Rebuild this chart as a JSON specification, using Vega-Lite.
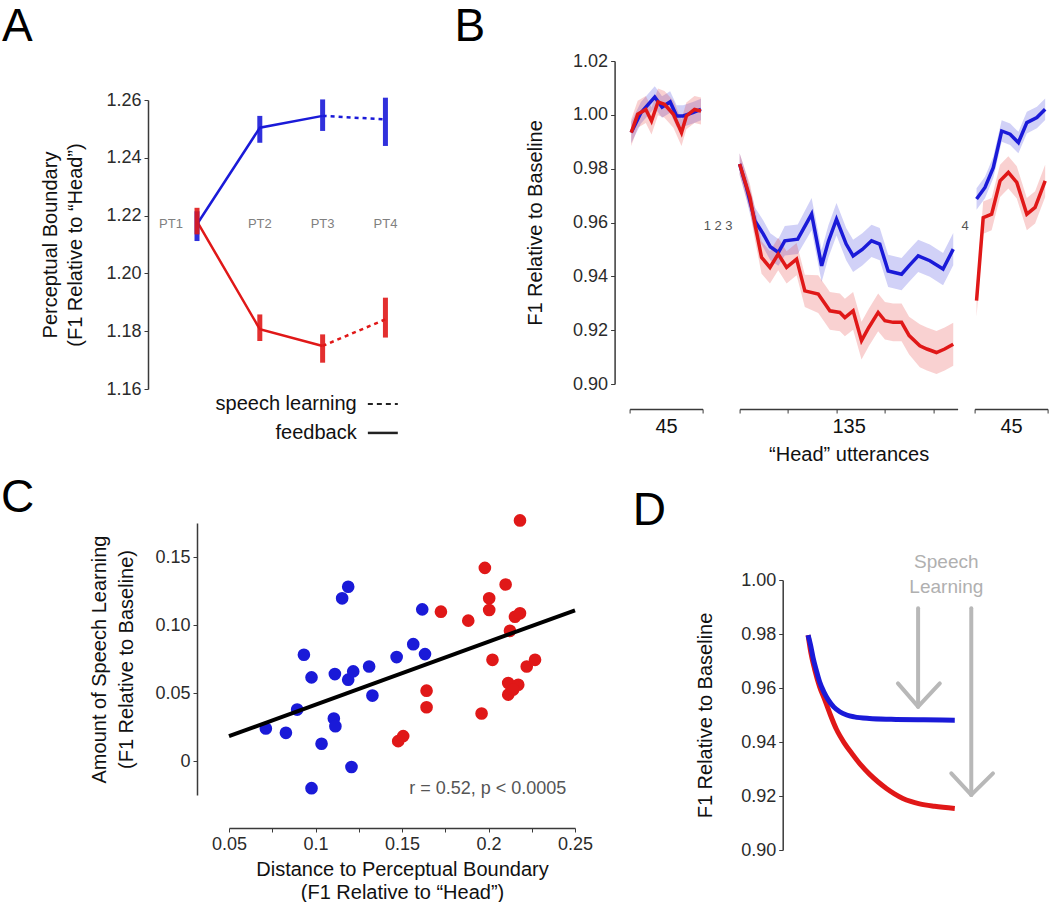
{
 "$schema": "https://vega.github.io/schema/vega-lite/v6.json",
 "background": "white",
 "padding": {"left": 1, "top": 4, "right": 0, "bottom": 0},
 "config": {
  "font": "Liberation Sans",
  "view": {"stroke": null},
  "axis": {"grid": false, "labelFontSize": 18, "titleFontSize": 20, "titleFontWeight": "normal", "labelColor": "#2b2b2b", "titleColor": "#111111", "domainColor": "#3a3a3a", "tickColor": "#3a3a3a", "tickSize": 4, "labelPadding": 3, "domainWidth": 1.5, "labelOverlap": false},
  "title": {"fontSize": 46, "fontWeight": "normal", "anchor": "start", "frame": "group", "baseline": "alphabetic", "color": "#000000"}
 },
 "datasets": {
  "A": [
   {"pt":1,"g":"blue","m":1.2170,"lo":1.2112,"hi":1.2215},
   {"pt":2,"g":"blue","m":1.2504,"lo":1.2452,"hi":1.2545},
   {"pt":3,"g":"blue","m":1.2545,"lo":1.2493,"hi":1.2602},
   {"pt":4,"g":"blue","m":1.2533,"lo":1.2441,"hi":1.2608},
   {"pt":1,"g":"red","m":1.2180,"lo":1.2135,"hi":1.2227},
   {"pt":2,"g":"red","m":1.1807,"lo":1.1766,"hi":1.1858},
   {"pt":3,"g":"red","m":1.1749,"lo":1.1691,"hi":1.1789},
   {"pt":4,"g":"red","m":1.1841,"lo":1.1778,"hi":1.1916}
  ],
  "B": [
   {"s":1,"g":"blue","t":1,"y":0.9934,"lo":0.9894,"hi":0.9974},
   {"s":1,"g":"blue","t":7,"y":1.0008,"lo":0.9968,"hi":1.0048},
   {"s":1,"g":"blue","t":15.5,"y":1.0066,"lo":1.0026,"hi":1.0106},
   {"s":1,"g":"blue","t":20,"y":1.0029,"lo":0.9989,"hi":1.0069},
   {"s":1,"g":"blue","t":25,"y":1.0048,"lo":1.0008,"hi":1.0088},
   {"s":1,"g":"blue","t":29,"y":0.9996,"lo":0.9956,"hi":1.0036},
   {"s":1,"g":"blue","t":33,"y":0.9996,"lo":0.9956,"hi":1.0036},
   {"s":1,"g":"blue","t":39,"y":1.0008,"lo":0.9968,"hi":1.0048},
   {"s":1,"g":"blue","t":44,"y":1.0020,"lo":0.9980,"hi":1.0060},
   {"s":1,"g":"red","t":1,"y":0.9934,"lo":0.9884,"hi":0.9984},
   {"s":1,"g":"red","t":5,"y":1.0002,"lo":0.9952,"hi":1.0052},
   {"s":1,"g":"red","t":10,"y":1.0020,"lo":0.9970,"hi":1.0070},
   {"s":1,"g":"red","t":13.5,"y":0.9977,"lo":0.9927,"hi":1.0027},
   {"s":1,"g":"red","t":17.5,"y":1.0048,"lo":0.9998,"hi":1.0098},
   {"s":1,"g":"red","t":21.5,"y":1.0039,"lo":0.9989,"hi":1.0089},
   {"s":1,"g":"red","t":27,"y":1.0002,"lo":0.9952,"hi":1.0052},
   {"s":1,"g":"red","t":32,"y":0.9934,"lo":0.9884,"hi":0.9984},
   {"s":1,"g":"red","t":35,"y":0.9996,"lo":0.9946,"hi":1.0046},
   {"s":1,"g":"red","t":40,"y":1.0020,"lo":0.9970,"hi":1.0070},
   {"s":1,"g":"red","t":44,"y":1.0014,"lo":0.9964,"hi":1.0064},
   {"s":2,"g":"blue","t":45,"y":0.9817,"lo":0.9777,"hi":0.9857},
   {"s":2,"g":"blue","t":49,"y":0.9736,"lo":0.9691,"hi":0.9781},
   {"s":2,"g":"blue","t":54.5,"y":0.9606,"lo":0.9556,"hi":0.9656},
   {"s":2,"g":"blue","t":59.7,"y":0.9557,"lo":0.9507,"hi":0.9607},
   {"s":2,"g":"blue","t":64,"y":0.9510,"lo":0.9460,"hi":0.9560},
   {"s":2,"g":"blue","t":69,"y":0.9489,"lo":0.9439,"hi":0.9539},
   {"s":2,"g":"blue","t":73,"y":0.9532,"lo":0.9477,"hi":0.9587},
   {"s":2,"g":"blue","t":81,"y":0.9538,"lo":0.9483,"hi":0.9593},
   {"s":2,"g":"blue","t":89.6,"y":0.9631,"lo":0.9571,"hi":0.9691},
   {"s":2,"g":"blue","t":95.8,"y":0.9439,"lo":0.9379,"hi":0.9499},
   {"s":2,"g":"blue","t":100,"y":0.9530,"lo":0.9470,"hi":0.9590},
   {"s":2,"g":"blue","t":105,"y":0.9612,"lo":0.9552,"hi":0.9672},
   {"s":2,"g":"blue","t":111,"y":0.9520,"lo":0.9460,"hi":0.9580},
   {"s":2,"g":"blue","t":115.3,"y":0.9476,"lo":0.9416,"hi":0.9536},
   {"s":2,"g":"blue","t":121,"y":0.9500,"lo":0.9440,"hi":0.9560},
   {"s":2,"g":"blue","t":126.7,"y":0.9532,"lo":0.9472,"hi":0.9592},
   {"s":2,"g":"blue","t":131.8,"y":0.9520,"lo":0.9460,"hi":0.9580},
   {"s":2,"g":"blue","t":137,"y":0.9420,"lo":0.9360,"hi":0.9480},
   {"s":2,"g":"blue","t":145.3,"y":0.9408,"lo":0.9348,"hi":0.9468},
   {"s":2,"g":"blue","t":150,"y":0.9440,"lo":0.9380,"hi":0.9500},
   {"s":2,"g":"blue","t":155.6,"y":0.9476,"lo":0.9416,"hi":0.9536},
   {"s":2,"g":"blue","t":162.8,"y":0.9458,"lo":0.9398,"hi":0.9518},
   {"s":2,"g":"blue","t":171,"y":0.9427,"lo":0.9367,"hi":0.9487},
   {"s":2,"g":"blue","t":177.3,"y":0.9501,"lo":0.9441,"hi":0.9561},
   {"s":2,"g":"red","t":45,"y":0.9817,"lo":0.9777,"hi":0.9857},
   {"s":2,"g":"red","t":51.4,"y":0.9693,"lo":0.9643,"hi":0.9743},
   {"s":2,"g":"red","t":54.5,"y":0.9594,"lo":0.9534,"hi":0.9654},
   {"s":2,"g":"red","t":58.6,"y":0.9470,"lo":0.9410,"hi":0.9530},
   {"s":2,"g":"red","t":63.8,"y":0.9433,"lo":0.9373,"hi":0.9493},
   {"s":2,"g":"red","t":68.9,"y":0.9483,"lo":0.9423,"hi":0.9543},
   {"s":2,"g":"red","t":74.1,"y":0.9433,"lo":0.9373,"hi":0.9493},
   {"s":2,"g":"red","t":80.3,"y":0.9464,"lo":0.9404,"hi":0.9524},
   {"s":2,"g":"red","t":85.4,"y":0.9346,"lo":0.9286,"hi":0.9406},
   {"s":2,"g":"red","t":93.7,"y":0.9334,"lo":0.9264,"hi":0.9404},
   {"s":2,"g":"red","t":100.9,"y":0.9272,"lo":0.9202,"hi":0.9342},
   {"s":2,"g":"red","t":107.1,"y":0.9266,"lo":0.9196,"hi":0.9336},
   {"s":2,"g":"red","t":110.2,"y":0.9247,"lo":0.9177,"hi":0.9317},
   {"s":2,"g":"red","t":115.3,"y":0.9272,"lo":0.9202,"hi":0.9342},
   {"s":2,"g":"red","t":120.5,"y":0.9161,"lo":0.9091,"hi":0.9231},
   {"s":2,"g":"red","t":125,"y":0.9210,"lo":0.9140,"hi":0.9280},
   {"s":2,"g":"red","t":130.8,"y":0.9266,"lo":0.9196,"hi":0.9336},
   {"s":2,"g":"red","t":135,"y":0.9235,"lo":0.9165,"hi":0.9305},
   {"s":2,"g":"red","t":140.1,"y":0.9229,"lo":0.9159,"hi":0.9299},
   {"s":2,"g":"red","t":145.3,"y":0.9229,"lo":0.9159,"hi":0.9299},
   {"s":2,"g":"red","t":150,"y":0.9180,"lo":0.9110,"hi":0.9250},
   {"s":2,"g":"red","t":156.6,"y":0.9142,"lo":0.9062,"hi":0.9222},
   {"s":2,"g":"red","t":161,"y":0.9130,"lo":0.9050,"hi":0.9210},
   {"s":2,"g":"red","t":166.9,"y":0.9117,"lo":0.9037,"hi":0.9197},
   {"s":2,"g":"red","t":172,"y":0.9130,"lo":0.9050,"hi":0.9210},
   {"s":2,"g":"red","t":177.3,"y":0.9148,"lo":0.9068,"hi":0.9228},
   {"s":3,"g":"blue","t":181.2,"y":0.9687,"lo":0.9647,"hi":0.9727},
   {"s":3,"g":"blue","t":186.4,"y":0.9730,"lo":0.9690,"hi":0.9770},
   {"s":3,"g":"blue","t":191.5,"y":0.9804,"lo":0.9764,"hi":0.9844},
   {"s":3,"g":"blue","t":196.7,"y":0.9940,"lo":0.9900,"hi":0.9980},
   {"s":3,"g":"blue","t":201.9,"y":0.9928,"lo":0.9888,"hi":0.9968},
   {"s":3,"g":"blue","t":207,"y":0.9897,"lo":0.9857,"hi":0.9937},
   {"s":3,"g":"blue","t":212.2,"y":0.9971,"lo":0.9931,"hi":1.0011},
   {"s":3,"g":"blue","t":218.4,"y":0.9990,"lo":0.9950,"hi":1.0030},
   {"s":3,"g":"blue","t":223.5,"y":1.0021,"lo":0.9981,"hi":1.0061},
   {"s":3,"g":"red","t":181.2,"y":0.9310,"lo":0.9250,"hi":0.9370},
   {"s":3,"g":"red","t":185.3,"y":0.9618,"lo":0.9558,"hi":0.9678},
   {"s":3,"g":"red","t":190.5,"y":0.9631,"lo":0.9571,"hi":0.9691},
   {"s":3,"g":"red","t":195.7,"y":0.9755,"lo":0.9695,"hi":0.9815},
   {"s":3,"g":"red","t":200.8,"y":0.9786,"lo":0.9726,"hi":0.9846},
   {"s":3,"g":"red","t":206,"y":0.9749,"lo":0.9689,"hi":0.9809},
   {"s":3,"g":"red","t":212.2,"y":0.9631,"lo":0.9571,"hi":0.9691},
   {"s":3,"g":"red","t":217.3,"y":0.9656,"lo":0.9596,"hi":0.9716},
   {"s":3,"g":"red","t":223.5,"y":0.9755,"lo":0.9695,"hi":0.9815}
  ],
  "C": [
   {"g":"blue","x":0.0713,"y":0.0239},{"g":"blue","x":0.0829,"y":0.0207},{"g":"blue","x":0.0894,"y":0.0378},
   {"g":"blue","x":0.0933,"y":0.0781},{"g":"blue","x":0.0977,"y":0.0615},{"g":"blue","x":0.0977,"y":-0.0200},
   {"g":"blue","x":0.1035,"y":0.0127},{"g":"blue","x":0.1112,"y":0.0639},{"g":"blue","x":0.1106,"y":0.0312},
   {"g":"blue","x":0.1115,"y":0.0256},{"g":"blue","x":0.1154,"y":0.1196},{"g":"blue","x":0.1189,"y":0.1281},
   {"g":"blue","x":0.1189,"y":0.0598},{"g":"blue","x":0.1218,"y":0.0659},{"g":"blue","x":0.1208,"y":-0.0044},
   {"g":"blue","x":0.1310,"y":0.0695},{"g":"blue","x":0.1329,"y":0.0481},{"g":"blue","x":0.1469,"y":0.0764},
   {"g":"blue","x":0.1565,"y":0.0859},{"g":"blue","x":0.1617,"y":0.1115},{"g":"blue","x":0.1633,"y":0.0786},
   {"g":"red","x":0.1478,"y":0.0146},{"g":"red","x":0.1507,"y":0.0183},{"g":"red","x":0.1642,"y":0.0517},
   {"g":"red","x":0.1642,"y":0.0395},{"g":"red","x":0.1725,"y":0.1098},{"g":"red","x":0.1883,"y":0.1032},
   {"g":"red","x":0.1960,"y":0.0349},{"g":"red","x":0.1979,"y":0.1420},{"g":"red","x":0.2004,"y":0.1196},
   {"g":"red","x":0.2004,"y":0.1110},{"g":"red","x":0.2023,"y":0.0744},{"g":"red","x":0.2099,"y":0.1298},
   {"g":"red","x":0.2114,"y":0.0488},{"g":"red","x":0.2114,"y":0.0573},{"g":"red","x":0.2124,"y":0.0957},
   {"g":"red","x":0.2153,"y":0.1061},{"g":"red","x":0.2182,"y":0.1086},{"g":"red","x":0.2172,"y":0.0561},
   {"g":"red","x":0.2182,"y":0.1769},{"g":"red","x":0.2221,"y":0.0695},{"g":"red","x":0.2269,"y":0.0744},
   {"g":"red","x":0.2143,"y":0.0525}
  ],
  "Cfit": [{"x":0.05,"y":0.0183},{"x":0.25,"y":0.1108}],
  "D": [
   {"g":"blue","x":11.7,"y":0.9796},{"g":"blue","x":12.8,"y":0.9760},{"g":"blue","x":14,"y":0.9712},
   {"g":"blue","x":15.5,"y":0.9665},{"g":"blue","x":17,"y":0.9623},{"g":"blue","x":19,"y":0.9585},
   {"g":"blue","x":21,"y":0.9556},{"g":"blue","x":23.5,"y":0.9530},{"g":"blue","x":26.3,"y":0.9512},
   {"g":"blue","x":29.5,"y":0.9500},{"g":"blue","x":33,"y":0.9493},{"g":"blue","x":40,"y":0.9487},
   {"g":"blue","x":50,"y":0.9484},{"g":"blue","x":65,"y":0.9482},{"g":"blue","x":79.3,"y":0.9481},
   {"g":"red","x":11.7,"y":0.9796},{"g":"red","x":13,"y":0.9730},{"g":"red","x":14.7,"y":0.9670},
   {"g":"red","x":17,"y":0.9605},{"g":"red","x":19.4,"y":0.9556},{"g":"red","x":22,"y":0.9500},
   {"g":"red","x":24.7,"y":0.9448},{"g":"red","x":28.5,"y":0.9395},{"g":"red","x":32.4,"y":0.9352},
   {"g":"red","x":36,"y":0.9315},{"g":"red","x":40.1,"y":0.9280},{"g":"red","x":44,"y":0.9252},
   {"g":"red","x":47.8,"y":0.9228},{"g":"red","x":51.5,"y":0.9208},{"g":"red","x":55.4,"y":0.9191},
   {"g":"red","x":59,"y":0.9180},{"g":"red","x":63.1,"y":0.9171},{"g":"red","x":70,"y":0.9162},
   {"g":"red","x":79.3,"y":0.9154}
  ],
  "Darrows": [
   {"x":62.4,"y":0.9895,"x2":62.4,"y2":0.9531},
   {"x":53.1,"y":0.9617,"x2":62.4,"y2":0.9531},
   {"x":72.4,"y":0.9617,"x2":62.4,"y2":0.9531},
   {"x":86.9,"y":0.9895,"x2":86.9,"y2":0.9204},
   {"x":77.7,"y":0.9284,"x2":86.9,"y2":0.9204},
   {"x":96.9,"y":0.9284,"x2":86.9,"y2":0.9204}
  ]
 },
 "spacing": 462,
 "bounds": "flush",
 "vconcat": [
  {
   "spacing": 481.6,
   "bounds": "flush",
   "hconcat": [
    {
     "spacing": 0,
     "bounds": "flush",
     "vconcat": [
      {"width": 250, "height": 39, "data": {"values": []}, "mark": "point"},
      {
       "width": 250, "height": 289,
       "title": {"text": "A", "dx": -146, "offset": 40},
       "data": {"name": "A"},
       "layer": [
        {
         "transform": [{"filter": "datum.pt <= 3"}],
         "mark": {"type": "line", "strokeWidth": 2.5},
         "encoding": {
          "x": {"field": "pt", "type": "quantitative", "scale": {"domain": [0.22, 4.2], "nice": false, "zero": false}, "axis": null},
          "y": {"field": "m", "type": "quantitative", "scale": {"domain": [1.16, 1.26], "nice": false, "zero": false},
                "axis": {"values": [1.16, 1.18, 1.2, 1.22, 1.24, 1.26], "format": ".2f", "labelOverlap": false, "title": ["Perceptual Boundary", "(F1 Relative to “Head”)"], "titleLineHeight": 25, "titlePadding": 20}},
          "color": {"field": "g", "type": "nominal", "scale": {"domain": ["blue", "red"], "range": ["#1a1ad8", "#e01818"]}, "legend": null}
         }
        },
        {
         "transform": [{"filter": "datum.pt >= 3"}],
         "mark": {"type": "line", "strokeWidth": 2.5, "strokeDash": [4, 4]},
         "encoding": {
          "x": {"field": "pt", "type": "quantitative", "axis": null},
          "y": {"field": "m", "type": "quantitative"},
          "color": {"field": "g", "type": "nominal", "scale": {"domain": ["blue", "red"], "range": ["#1a1ad8", "#e01818"]}, "legend": null}
         }
        },
        {
         "mark": {"type": "rule", "strokeWidth": 5, "opacity": 0.9},
         "encoding": {
          "x": {"field": "pt", "type": "quantitative", "axis": null},
          "y": {"field": "lo", "type": "quantitative"},
          "y2": {"field": "hi"},
          "color": {"field": "g", "type": "nominal", "scale": {"domain": ["blue", "red"], "range": ["#1a1ad8", "#e01818"]}, "legend": null}
         }
        },
        {
         "data": {"values": [{"lab": "PT2", "pt": 2}, {"lab": "PT3", "pt": 3}, {"lab": "PT4", "pt": 4}]},
         "mark": {"type": "text", "fontSize": 13, "color": "#808080"},
         "encoding": {
          "x": {"field": "pt", "type": "quantitative", "axis": null},
          "y": {"datum": 1.2172},
          "text": {"field": "lab"}
         }
        },
        {
         "data": {"values": [{"lab": "PT1"}]},
         "mark": {"type": "text", "fontSize": 13, "color": "#808080", "dx": -26},
         "encoding": {"x": {"datum": 1}, "y": {"datum": 1.2172}, "text": {"field": "lab"}}
        },
        {
         "data": {"values": [{"lab": "speech learning"}]},
         "mark": {"type": "text", "fontSize": 20, "align": "right", "baseline": "middle", "color": "#111111"},
         "encoding": {"x": {"datum": 3.543}, "y": {"datum": 1.1548}, "text": {"field": "lab"}}
        },
        {
         "data": {"values": [{"lab": "feedback"}]},
         "mark": {"type": "text", "fontSize": 20, "align": "right", "baseline": "middle", "color": "#111111"},
         "encoding": {"x": {"datum": 3.543}, "y": {"datum": 1.1448}, "text": {"field": "lab"}}
        },
        {
         "data": {"values": [{"k": "dash"}]},
         "mark": {"type": "rule", "strokeWidth": 2, "strokeDash": [5, 4], "color": "#222222"},
         "encoding": {"x": {"datum": 3.72}, "x2": {"datum": 4.197}, "y": {"datum": 1.1548}}
        },
        {
         "data": {"values": [{"k": "solid"}]},
         "mark": {"type": "rule", "strokeWidth": 2.5, "color": "#222222"},
         "encoding": {"x": {"datum": 3.72}, "x2": {"datum": 4.197}, "y": {"datum": 1.1448}}
        }
       ]
      }
     ]
    },
    {
     "spacing": 37,
     "bounds": "flush",
     "hconcat": [
      {
       "width": 73, "height": 323,
       "title": {"text": "B", "dx": -175, "offset": 1},
       "data": {"name": "B"},
       "transform": [{"filter": "datum.s == 1"}],
       "layer": [
        {
         "mark": {"type": "area", "opacity": 0.2},
         "encoding": {
          "x": {"field": "t", "type": "quantitative", "scale": {"domain": [0, 45], "nice": false, "zero": false},
                "axis": {"offset": 25, "values": [0, 15, 30, 45], "labels": false, "title": "45", "titlePadding": 3}},
          "y": {"field": "lo", "type": "quantitative", "stack": null, "scale": {"domain": [0.9, 1.02], "nice": false, "zero": false},
                "axis": {"offset": 15, "values": [0.9, 0.91, 0.92, 0.93, 0.94, 0.95, 0.96, 0.97, 0.98, 0.99, 1.0, 1.01, 1.02], "labelOverlap": false, "labelExpr": "round(datum.value*100) % 2 == 0 ? format(datum.value, '.2f') : ''", "title": "F1 Relative to Baseline", "titlePadding": 27}},
          "y2": {"field": "hi"},
          "color": {"field": "g", "type": "nominal", "scale": {"domain": ["blue", "red"], "range": ["#1a1ad8", "#e01818"]}, "legend": null}
         }
        },
        {
         "mark": {"type": "line", "strokeWidth": 3.5},
         "encoding": {
          "x": {"field": "t", "type": "quantitative"},
          "y": {"field": "y", "type": "quantitative"},
          "color": {"field": "g", "type": "nominal", "scale": {"domain": ["blue", "red"], "range": ["#1a1ad8", "#e01818"]}, "legend": null}
         }
        }
       ]
      },
      {
       "spacing": 17,
       "bounds": "flush",
       "hconcat": [
        {
         "width": 218, "height": 323,
         "layer": [
          {
           "data": {"name": "B"},
           "transform": [{"filter": "datum.s == 2"}],
           "mark": {"type": "area", "opacity": 0.2},
           "encoding": {
            "x": {"field": "t", "type": "quantitative", "scale": {"domain": [45, 180], "nice": false, "zero": false},
                  "axis": {"offset": 25, "values": [45, 60, 75, 90, 105, 120, 135, 150, 165, 180], "labels": false, "title": ["135", "“Head” utterances"], "titleLineHeight": 28, "titlePadding": 3}},
            "y": {"field": "lo", "type": "quantitative", "stack": null, "scale": {"domain": [0.9, 1.02], "nice": false, "zero": false}, "axis": null},
            "y2": {"field": "hi"},
            "color": {"field": "g", "type": "nominal", "scale": {"domain": ["blue", "red"], "range": ["#1a1ad8", "#e01818"]}, "legend": null}
           }
          },
          {
           "data": {"name": "B"},
           "transform": [{"filter": "datum.s == 2"}],
           "mark": {"type": "line", "strokeWidth": 3.5},
           "encoding": {
            "x": {"field": "t", "type": "quantitative"},
            "y": {"field": "y", "type": "quantitative"},
            "color": {"field": "g", "type": "nominal", "scale": {"domain": ["blue", "red"], "range": ["#1a1ad8", "#e01818"]}, "legend": null}
           }
          },
          {
           "data": {"values": [{"lab": "1 2 3"}]},
           "mark": {"type": "text", "fontSize": 13, "color": "#555555", "align": "right", "dx": -7},
           "encoding": {"x": {"datum": 45}, "y": {"datum": 0.9588}, "text": {"field": "lab"}}
          },
          {
           "data": {"values": [{"lab": "4"}]},
           "mark": {"type": "text", "fontSize": 13, "color": "#555555", "align": "left", "dx": 4},
           "encoding": {"x": {"datum": 180}, "y": {"datum": 0.9588}, "text": {"field": "lab"}}
          }
         ]
        },
        {
         "width": 73, "height": 323,
         "data": {"name": "B"},
         "transform": [{"filter": "datum.s == 3"}],
         "layer": [
          {
           "mark": {"type": "area", "opacity": 0.2},
           "encoding": {
            "x": {"field": "t", "type": "quantitative", "scale": {"domain": [180, 225], "nice": false, "zero": false},
                  "axis": {"offset": 25, "values": [180, 195, 210, 225], "labels": false, "title": "45", "titlePadding": 3}},
            "y": {"field": "lo", "type": "quantitative", "stack": null, "scale": {"domain": [0.9, 1.02], "nice": false, "zero": false}, "axis": null},
            "y2": {"field": "hi"},
            "color": {"field": "g", "type": "nominal", "scale": {"domain": ["blue", "red"], "range": ["#1a1ad8", "#e01818"]}, "legend": null}
           }
          },
          {
           "mark": {"type": "line", "strokeWidth": 3.5},
           "encoding": {
            "x": {"field": "t", "type": "quantitative"},
            "y": {"field": "y", "type": "quantitative"},
            "color": {"field": "g", "type": "nominal", "scale": {"domain": ["blue", "red"], "range": ["#1a1ad8", "#e01818"]}, "legend": null}
           }
          }
         ]
        }
       ]
      }
     ]
    }
   ]
  },
  {
   "spacing": 634.7,
   "bounds": "flush",
   "hconcat": [
    {
     "spacing": 0,
     "bounds": "flush",
     "hconcat": [
      {"width": 80.9, "height": 272, "data": {"values": []}, "mark": "point"},
      {
       "width": 346, "height": 272,
       "title": {"text": "C", "dx": -228, "offset": 0, "dy": 8},
       "layer": [
        {
         "data": {"name": "C"},
         "mark": {"type": "circle", "size": 160, "opacity": 1},
         "encoding": {
          "x": {"field": "x", "type": "quantitative", "scale": {"domain": [0.05, 0.25], "nice": false, "zero": false},
                "axis": {"offset": 33, "values": [0.05, 0.075, 0.1, 0.125, 0.15, 0.175, 0.2, 0.225, 0.25], "labelOverlap": false, "labelFlush": false, "labelExpr": "abs(round(datum.value*1000)) % 50 == 0 ? format(datum.value, '~g') : ''", "title": ["Distance to Perceptual Boundary", "(F1 Relative to “Head”)"], "titleLineHeight": 23, "titlePadding": 6}},
          "y": {"field": "y", "type": "quantitative", "scale": {"domain": [-0.025, 0.175], "nice": false, "zero": false},
                "axis": {"offset": 32, "values": [0, 0.05, 0.1, 0.15], "format": ".2f", "labelOverlap": false, "labelFlush": false, "labelBound": false, "labelExpr": "datum.value == 0 ? '0' : datum.label", "title": ["Amount of Speech Learning", "(F1 Relative to Baseline)"], "titleLineHeight": 27, "titlePadding": 18}},
          "color": {"field": "g", "type": "nominal", "scale": {"domain": ["blue", "red"], "range": ["#1a1ad8", "#e01818"]}, "legend": null}
         }
        },
        {
         "data": {"name": "Cfit"},
         "mark": {"type": "line", "color": "#000000", "strokeWidth": 4},
         "encoding": {"x": {"field": "x", "type": "quantitative"}, "y": {"field": "y", "type": "quantitative"}}
        },
        {
         "data": {"values": [{"lab": "r = 0.52, p < 0.0005"}]},
         "mark": {"type": "text", "fontSize": 18, "align": "right", "baseline": "middle", "color": "#555555"},
         "encoding": {"x": {"datum": 0.245}, "y": {"datum": -0.0207}, "text": {"field": "lab"}}
        }
       ]
      }
     ]
    },
    {
     "spacing": 0,
     "bounds": "flush",
     "vconcat": [
      {"width": 217, "height": 56.3, "data": {"values": []}, "mark": "point"},
      {
       "width": 217, "height": 270,
       "title": {"text": "D", "dx": -150, "offset": 18},
       "layer": [
        {
         "data": {"name": "D"},
         "transform": [{"filter": "datum.g == 'red'"}],
         "mark": {"type": "line", "strokeWidth": 5, "interpolate": "monotone", "color": "#e01818"},
         "encoding": {
          "x": {"field": "x", "type": "quantitative", "scale": {"domain": [0, 100], "nice": false, "zero": false}, "axis": null},
          "y": {"field": "y", "type": "quantitative", "scale": {"domain": [0.9, 1.0], "nice": false, "zero": false},
                "axis": {"values": [0.9, 0.91, 0.92, 0.93, 0.94, 0.95, 0.96, 0.97, 0.98, 0.99, 1.0], "labelOverlap": false, "labelExpr": "round(datum.value*100) % 2 == 0 ? format(datum.value, '.2f') : ''", "title": "F1 Relative to Baseline", "titlePadding": 25}}
         }
        },
        {
         "data": {"name": "D"},
         "transform": [{"filter": "datum.g == 'blue'"}],
         "mark": {"type": "line", "strokeWidth": 5, "interpolate": "monotone", "color": "#1a1ad8"},
         "encoding": {"x": {"field": "x", "type": "quantitative"}, "y": {"field": "y", "type": "quantitative"}}
        },
        {
         "data": {"name": "Darrows"},
         "mark": {"type": "rule", "color": "#b8b8b8", "strokeWidth": 4, "strokeCap": "round"},
         "encoding": {
          "x": {"field": "x", "type": "quantitative"},
          "y": {"field": "y", "type": "quantitative"},
          "x2": {"field": "x2"},
          "y2": {"field": "y2"}
         }
        },
        {
         "data": {"values": [{"lab": "Speech"}]},
         "mark": {"type": "text", "fontSize": 19, "color": "#b0b0b0", "baseline": "middle"},
         "encoding": {"x": {"datum": 75.4}, "y": {"datum": 1.0068}, "text": {"field": "lab"}}
        },
        {
         "data": {"values": [{"lab": "Learning"}]},
         "mark": {"type": "text", "fontSize": 19, "color": "#b0b0b0", "baseline": "middle"},
         "encoding": {"x": {"datum": 75.4}, "y": {"datum": 0.9975}, "text": {"field": "lab"}}
        }
       ]
      }
     ]
    }
   ]
  }
 ]
}
